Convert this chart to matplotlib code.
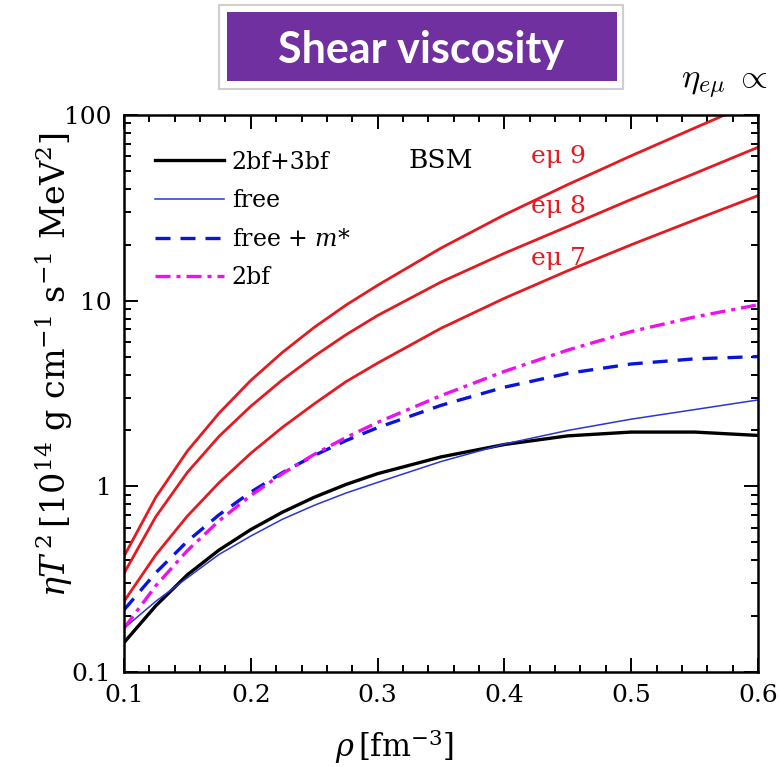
import numpy as np
import matplotlib
matplotlib.use("Agg")
import matplotlib.pyplot as plt
from matplotlib.patches import Rectangle
from matplotlib.ticker import MultipleLocator, LogLocator, NullFormatter, FixedLocator, FixedFormatter

# density grid [fm^-3]
rho = [0.1, 0.125, 0.15, 0.175, 0.2, 0.225, 0.25, 0.275, 0.3,
       0.35, 0.4, 0.45, 0.5, 0.55, 0.6]

# eta*T^2 [1e14 g cm^-1 s^-1 MeV^2]
em9 = [0.42, 0.871, 1.55, 2.48, 3.72, 5.27, 7.18, 9.46, 12.1,
       19.2, 29.0, 42.2, 60.3, 85.1, 119.7]
em8 = [0.34, 0.685, 1.19, 1.86, 2.70, 3.75, 5.02, 6.55, 8.32,
       12.6, 18.0, 25.1, 35.1, 48.4, 67.0]
em7 = [0.24, 0.427, 0.692, 1.047, 1.507, 2.08, 2.78, 3.66, 4.61,
       7.1, 10.3, 14.5, 20.0, 27.2, 36.8]
bf23 = [0.144, 0.227, 0.334, 0.454, 0.585, 0.726, 0.873, 1.023, 1.17,
        1.44, 1.68, 1.87, 1.96, 1.96, 1.88]
free = [0.172, 0.24, 0.322, 0.43, 0.54, 0.665, 0.79, 0.92, 1.05,
        1.36, 1.69, 2.0, 2.3, 2.59, 2.92]
free_m = [0.216, 0.342, 0.506, 0.703, 0.931, 1.186, 1.466, 1.762, 2.07,
          2.73, 3.42, 4.06, 4.56, 4.86, 5.0]
bf2 = [0.172, 0.291, 0.451, 0.652, 0.893, 1.172, 1.486, 1.832, 2.21,
       3.08, 4.16, 5.42, 6.82, 8.17, 9.5]

red_labels = ['eμ 9', 'eμ 8', 'eμ 7']
ytick_vals = [0.1, 1, 10, 100]
ytick_text = ['0.1', '1', '10', '100']

plt.rcParams['mathtext.fontset'] = 'dejavuserif'
serif = 'DejaVu Serif'

fig = plt.figure(figsize=(7.81, 7.67), dpi=100)
ax = fig.add_axes([124/781, 1-672/767, (758-124)/781, (672-115)/767])

red = '#e5191f'
for ys in (em9, em8, em7):
    ax.plot(rho, ys, color=red, lw=2.0)
ax.plot(rho, bf23, color='black', lw=2.4, label='2bf+3bf')
ax.plot(rho, free, color='#2a36d4', lw=1.1, label='free')
ax.plot(rho, free_m, color='#0a14e0', lw=2.4, dashes=(4.5, 3.0), label='free + $m$*')
ax.plot(rho, bf2, color='#ee10ee', lw=2.4, dashes=(4.5, 1.8, 1.2, 1.8), label='2bf')

ax.set_yscale('log')
ax.set_xlim(0.1, 0.6)
ax.set_ylim(0.1, 100)

ax.xaxis.set_major_locator(MultipleLocator(0.1))
ax.xaxis.set_minor_locator(MultipleLocator(0.02))
ax.yaxis.set_major_locator(FixedLocator(ytick_vals))
ax.yaxis.set_major_formatter(FixedFormatter(ytick_text))
ax.yaxis.set_minor_locator(LogLocator(base=10, subs=np.arange(2, 10)))
ax.yaxis.set_minor_formatter(NullFormatter())
ax.tick_params(which='both', direction='in', top=True, right=True, width=1.4)
ax.tick_params(which='major', length=10, labelsize=18, pad=9)
ax.tick_params(which='minor', length=5)
for lab in ax.get_xticklabels() + ax.get_yticklabels():
    lab.set_fontfamily(serif)
for sp in ax.spines.values():
    sp.set_linewidth(1.8)

ax.set_xlabel(r'$\rho\,[\mathrm{fm}^{-3}]$', fontsize=22)
ax.xaxis.set_label_coords(0.427, -0.098)
ax.set_ylabel(r'$\eta T^{\,2}\,[10^{14}\ \mathrm{g\ cm}^{-1}\ \mathrm{s}^{-1}\ \mathrm{MeV}^{2}]$',
              fontsize=24)
ax.yaxis.set_label_coords(-0.078, 0.551)

leg = ax.legend(loc='upper left', bbox_to_anchor=(0.049, 0.936), frameon=False,
                borderaxespad=0, borderpad=0,
                handlelength=2.9, handletextpad=0.35, labelspacing=0.66,
                prop={'family': serif, 'size': 17})

ax.text(0.5, 0.919, 'BSM', transform=ax.transAxes, fontsize=19,
        family=serif, ha='center', va='center')
for lab, yy in zip(red_labels, [0.925, 0.835, 0.743]):
    ax.text(0.685, yy, lab, transform=ax.transAxes, fontsize=18,
            family=serif, color=red, ha='center', va='center')

# title box
fig.patches.append(Rectangle((219/781, 1-89/767), 404/781, 84/767,
                             transform=fig.transFigure, facecolor='white',
                             edgecolor='#cfcfcf', lw=1.5, zorder=0))
fig.patches.append(Rectangle((227/781, 1-81/767), 390/781, 69/767,
                             transform=fig.transFigure, facecolor='#7030a0',
                             edgecolor='none', zorder=1))
fig.text(421/781, 1-50/767, 'Shear viscosity', color='white', fontsize=31,
         fontweight='bold', family='Lato', ha='center', va='center')

fig.text(681/781, 1-84/767, r'$\eta_{e\mu}\;\propto$', fontsize=25,
         ha='left', va='center', math_fontfamily='cm')

fig.savefig('out.png', dpi=100)
